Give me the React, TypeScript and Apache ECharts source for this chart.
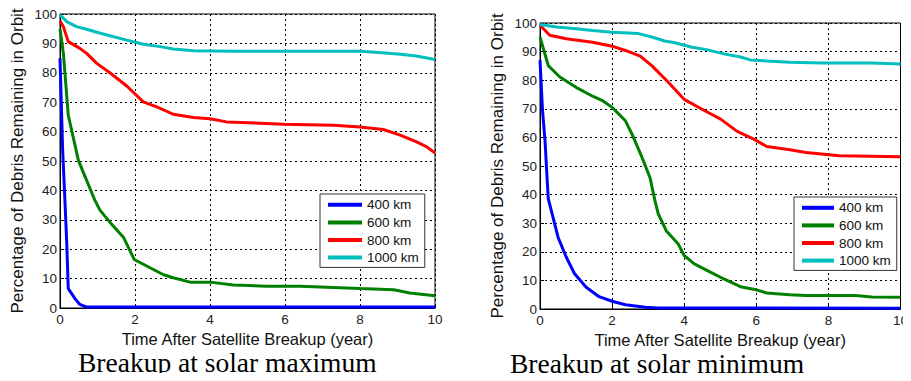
import React, { useEffect, useRef } from "react";
import * as echarts from "echarts";

type Pt = [number, number];

const seriesNames = ["400 km", "600 km", "800 km", "1000 km"];
const seriesColors = ["#0000ff", "#008000", "#ff0000", "#00bfbf"];
const captions = ["Breakup at solar maximum", "Breakup at solar minimum"];
const xTitle = "Time After Satellite Breakup (year)";
const yTitle = "Percentage of Debris Remaining in Orbit";

const solarMax400: Pt[] = [[0, 85], [0.07, 54], [0.13, 37], [0.18, 22], [0.22, 6.6], [0.4, 3.2], [0.53, 1.2], [0.71, 0.3], [10, 0.3]];
const solarMax600: Pt[] = [[0, 95], [0.09, 86.6], [0.22, 65.6], [0.49, 50.2], [0.71, 43.4], [0.93, 36.6], [1.07, 33.2], [1.33, 29.2], [1.69, 24.1], [1.98, 16.5], [2.4, 13.7], [2.76, 11.3], [3.02, 10.3], [3.47, 8.8], [4, 8.8], [4.62, 7.8], [5.51, 7.4], [6.4, 7.4], [7.29, 7.0], [8, 6.6], [8.9, 6.2], [9.33, 5.1], [10, 4.2]];
const solarMax800: Pt[] = [[0, 97.7], [0.09, 95.7], [0.22, 90.6], [0.53, 88.3], [0.71, 86.6], [0.98, 83.2], [1.33, 80], [1.78, 75.5], [2.22, 70.1], [2.58, 68.4], [3.02, 65.9], [3.56, 64.8], [4, 64.4], [4.44, 63.3], [5.96, 62.5], [7.29, 62.2], [8, 61.6], [8.62, 60.7], [9.07, 58.8], [9.51, 56.5], [9.78, 54.8], [10, 52.7]];
const solarMax1000: Pt[] = [[0, 99.7], [0.18, 97.4], [0.44, 95.7], [0.71, 94.8], [0.98, 93.8], [1.33, 92.6], [1.78, 91.1], [2.22, 89.7], [2.67, 88.9], [3.02, 88.1], [3.56, 87.5], [4.62, 87.3], [8, 87.3], [8.6, 86.8], [9.07, 86.3], [9.5, 85.7], [10, 84.5]];

const solarMin400: Pt[] = [[0, 87], [0.07, 69.4], [0.14, 58.8], [0.2, 44.9], [0.23, 38.5], [0.36, 32.1], [0.5, 25.1], [0.73, 18.1], [0.96, 12.3], [1.28, 7.6], [1.64, 4.3], [2, 2.7], [2.37, 1.5], [2.92, 0.6], [3.28, 0.35], [10, 0.3]];
const solarMin600: Pt[] = [[0, 95.1], [0.23, 85.1], [0.55, 81.1], [1, 77.5], [1.46, 74.4], [1.73, 72.9], [2, 70.5], [2.37, 65.8], [2.55, 61.2], [2.83, 53], [3.05, 46], [3.19, 37.8], [3.28, 33.3], [3.5, 27.4], [3.83, 22.8], [4, 18.7], [4.28, 15.8], [4.74, 12.8], [5.1, 10.5], [5.56, 7.8], [6, 6.7], [6.29, 5.6], [6.93, 5.0], [7.38, 4.7], [8.75, 4.7], [9.2, 4.2], [10, 4.1]];
const solarMin800: Pt[] = [[0, 99.2], [0.27, 95.7], [0.73, 94.5], [1.46, 93.3], [2, 91.9], [2.37, 90.4], [2.78, 88.4], [3.1, 85.1], [3.56, 79.3], [4.01, 73.2], [4.56, 69.4], [5.01, 66.4], [5.47, 62.1], [5.93, 59.4], [6.29, 56.8], [6.93, 55.7], [7.38, 54.7], [8.3, 53.6], [10, 53.2]];
const solarMin1000: Pt[] = [[0, 99.5], [0.46, 98.6], [1, 98], [1.46, 97.4], [2, 96.8], [2.73, 96.3], [3.1, 95.1], [3.46, 93.7], [3.74, 93.1], [4.19, 91.6], [4.65, 90.6], [5.1, 89.2], [5.56, 88.1], [5.83, 87.1], [6.29, 86.7], [6.93, 86.3], [7.84, 86], [9.2, 86], [10, 85.7]];

const panels = [
  [solarMax400, solarMax600, solarMax800, solarMax1000],
  [solarMin400, solarMin600, solarMin800, solarMin1000],
];

const FONT = "Liberation Sans, Arial, sans-serif";
const SERIF = "Liberation Serif, Times New Roman, serif";

const grids = [
  { left: 60, top: 14, width: 375, height: 294 },
  { left: 540, top: 23, width: 366, height: 286 },
];
const xNameGaps = [20, 19];
const legendPos = [
  { left: 320, top: 194, itemWidth: 34 },
  { left: 794, top: 197, itemWidth: 32 },
];
const captionPos = [
  { left: 78, top: 351.5 },
  { left: 510, top: 352 },
];

export default function App() {
  const ref = useRef<HTMLDivElement>(null);
  useEffect(() => {
    if (!ref.current) return;
    const chart = echarts.init(ref.current, undefined, { renderer: "svg" });
    const grid = grids.map((g) => ({
      ...g,
      show: true,
      borderColor: "#000",
      borderWidth: 1,
      backgroundColor: "#fff",
    }));
    const gridLine = { show: true, lineStyle: { color: "#000", type: [2, 3], width: 1 } };
    const xAxis = grids.map((_, i) => ({
      type: "value",
      gridIndex: i,
      min: 0,
      max: 10,
      interval: 2,
      name: xTitle,
      nameLocation: "middle",
      nameGap: xNameGaps[i],
      nameTextStyle: { fontFamily: FONT, fontSize: 16.5, color: "#111", lineHeight: 17 },
      axisLine: { show: true, lineStyle: { color: "#000" } },
      axisTick: { show: true, inside: true, length: 4, lineStyle: { color: "#000" } },
      axisLabel: { fontFamily: FONT, fontSize: 13.5, color: "#222", margin: 4 },
      splitLine: gridLine,
    }));
    const yAxis = grids.map((_, i) => ({
      type: "value",
      gridIndex: i,
      min: 0,
      max: 100,
      interval: 10,
      name: yTitle,
      nameLocation: "middle",
      nameGap: 34,
      nameTextStyle: { fontFamily: FONT, fontSize: 17, color: "#111" },
      axisLine: { show: true, lineStyle: { color: "#000" } },
      axisTick: { show: true, inside: true, length: 4, lineStyle: { color: "#000" } },
      axisLabel: { fontFamily: FONT, fontSize: 13.5, color: "#222", margin: 3 },
      splitLine: gridLine,
    }));
    const series: any[] = [];
    panels.forEach((panel, gi) => {
      panel.forEach((data, si) => {
        series.push({
          type: "line",
          name: seriesNames[si],
          xAxisIndex: gi,
          yAxisIndex: gi,
          data,
          showSymbol: false,
          symbol: "none",
          lineStyle: { color: seriesColors[si], width: 3 },
          itemStyle: { color: seriesColors[si] },
          z: 2 + si,
        });
      });
    });
    const legend = legendPos.map((p) => ({
      ...p,
      orient: "vertical",
      data: seriesNames,
      icon: "rect",
      itemHeight: 4,
      itemGap: 0,
      padding: [2, 6, 1, 8],
      borderColor: "#333",
      borderWidth: 1,
      backgroundColor: "#fff",
      selectedMode: false,
      textStyle: { fontFamily: FONT, fontSize: 13.5, color: "#111", lineHeight: 17.6 },
    }));
    const title = captionPos.map((p, i) => ({
      ...p,
      text: captions[i],
      textStyle: { fontFamily: SERIF, fontSize: 27.5, fontWeight: "normal", color: "#000", lineHeight: 22 },
      padding: 0,
    }));
    chart.setOption({
      animation: false,
      backgroundColor: "#fff",
      grid,
      xAxis,
      yAxis,
      series,
      legend,
      title,
    });
    return () => chart.dispose();
  }, []);
  return <div ref={ref} style={{ width: 911, height: 381, margin: -8 }} />;
}
